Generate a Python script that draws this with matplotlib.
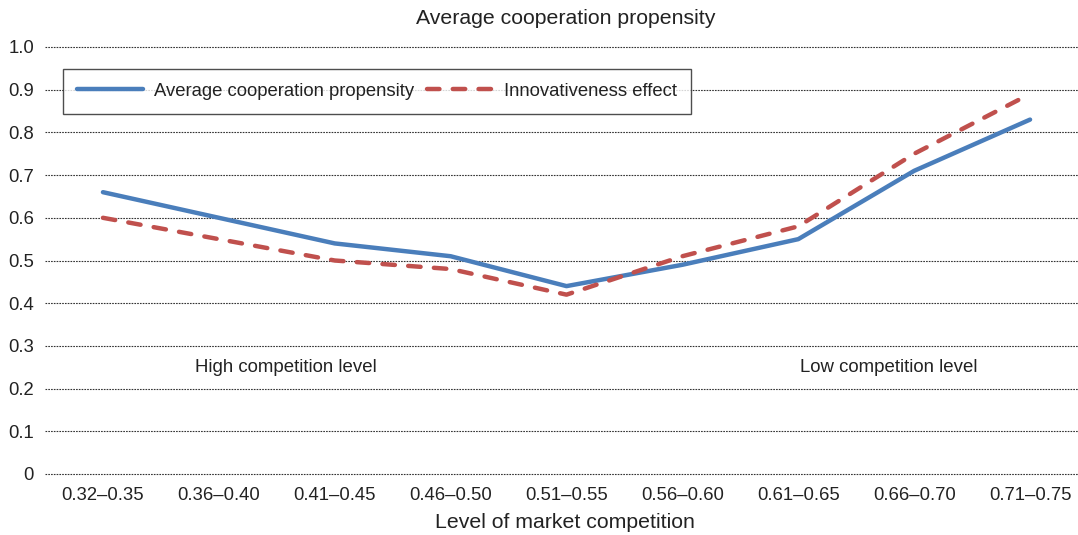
import numpy as np
import matplotlib.pyplot as plt

plt.rcParams['font.family'] = ['Liberation Sans', 'DejaVu Sans']

categories = ["0.32\u20130.35", "0.36\u20130.40", "0.41\u20130.45", "0.46\u20130.50",
              "0.51\u20130.55", "0.56\u20130.60", "0.61\u20130.65", "0.66\u20130.70",
              "0.71\u20130.75"]
avg_coop = [0.66, 0.60, 0.54, 0.51, 0.44, 0.49, 0.55, 0.71, 0.83]
innov_effect = [0.60, 0.55, 0.50, 0.48, 0.42, 0.51, 0.58, 0.75, 0.89]
yticks = [0, 0.1, 0.2, 0.3, 0.4, 0.5, 0.6, 0.7, 0.8, 0.9, 1.0]
ytick_labels = ["0", "0.1", "0.2", "0.3", "0.4", "0.5", "0.6", "0.7", "0.8", "0.9", "1.0"]

fig = plt.figure(figsize=(10.78, 5.35), dpi=100)
ax = fig.add_axes([45 / 1078, 1 - 474 / 535, (1088 - 45) / 1078, 427 / 535])

x = np.arange(len(categories))
ax.plot(x, avg_coop, color="#4a7ebb", lw=3.2, label="Average cooperation propensity",
        solid_capstyle="round", solid_joinstyle="round")
ax.plot(x, innov_effect, color="#c0504d", lw=3.2, ls=(0, (2.8, 3.0)),
        label="Innovativeness effect", dash_capstyle="round")

ax.set_xlim(-0.5, 8.5)
ax.set_ylim(0, 1.0)
ax.set_yticks(yticks)
ax.set_yticklabels(ytick_labels)
ax.set_xticks(x)
ax.set_xticklabels(categories)
ax.tick_params(axis="both", length=0, labelsize=13.3, colors="#222222")
ax.tick_params(axis="y", pad=8)
ax.tick_params(axis="x", pad=9)
for s in ax.spines.values():
    s.set_visible(False)
ax.yaxis.grid(True, ls=(0, (1.5, 1)), color="#333333", lw=0.8)
ax.set_axisbelow(True)
for gl in ax.get_ygridlines():
    gl.set_clip_on(False)

ax.text(1.58, 0.25, "High competition level", ha="center", va="center", fontsize=13.4, color="#222222")
ax.text(6.78, 0.25, "Low competition level", ha="center", va="center", fontsize=13.4, color="#222222")

fig.text(566 / 1078, 1 - 18 / 535, "Average cooperation propensity", ha="center", va="center",
         fontsize=15.3, color="#222222")
fig.text(565 / 1078, 1 - 522 / 535, "Level of market competition", ha="center", va="center",
         fontsize=15.3, color="#222222")

leg = ax.legend(loc="upper left", bbox_to_anchor=(63 / 1078, 1 - 69 / 535),
                bbox_transform=fig.transFigure, ncol=2, fontsize=13.3, frameon=True,
                fancybox=False, edgecolor="#222222", handlelength=3.6, columnspacing=0.75,
                borderpad=0.75, handletextpad=0.55, borderaxespad=0)
leg.get_frame().set_linewidth(1.0)
for t in leg.get_texts():
    t.set_color("#222222")

fig.savefig("out.png", dpi=100)
